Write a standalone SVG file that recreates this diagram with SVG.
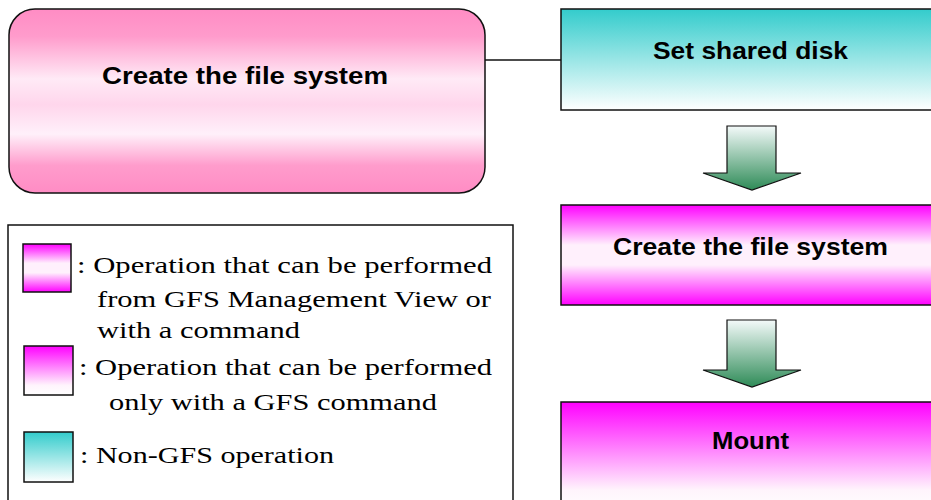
<svg xmlns="http://www.w3.org/2000/svg" width="931" height="500" viewBox="0 0 931 500">
<defs>
<linearGradient id="gPink" x1="0" y1="0" x2="0" y2="1">
<stop offset="0" stop-color="#ff8cc4"/>
<stop offset="0.15" stop-color="#ff9ccc"/>
<stop offset="0.38" stop-color="#ffeaf6"/>
<stop offset="0.52" stop-color="#ffd6ec"/>
<stop offset="0.68" stop-color="#fff0fa"/>
<stop offset="0.85" stop-color="#ff9ccc"/>
<stop offset="1" stop-color="#ff8cc4"/>
</linearGradient>
<linearGradient id="gMag" x1="0" y1="0" x2="0" y2="1">
<stop offset="0" stop-color="#ff00ff"/>
<stop offset="0.4" stop-color="#fff0fc"/>
<stop offset="0.6" stop-color="#fff0fc"/>
<stop offset="1" stop-color="#ff00ff"/>
</linearGradient>
<linearGradient id="gMagTop" x1="0" y1="0" x2="0" y2="1">
<stop offset="0" stop-color="#ff00ff"/>
<stop offset="0.8" stop-color="#fff4fc"/>
<stop offset="1" stop-color="#ffffff"/>
</linearGradient>
<linearGradient id="gTeal" x1="0" y1="0" x2="0" y2="1">
<stop offset="0" stop-color="#33cccc"/>
<stop offset="1" stop-color="#ffffff"/>
</linearGradient>
<linearGradient id="gArrow" x1="0" y1="0" x2="0" y2="1">
<stop offset="0" stop-color="#f4fafa"/>
<stop offset="1" stop-color="#2e8b57"/>
</linearGradient>
<style>
.box{stroke:#111;stroke-width:1.5}
.bold{font-family:"Liberation Sans",Arial,sans-serif;font-weight:bold;font-size:24px;fill:#000}
.leg{font-family:"Liberation Serif","Times New Roman",serif;font-size:23px;fill:#000}
.conn{stroke:#111;stroke-width:1.5;fill:none}
</style>
</defs>
<g id="connectors">
<line class="conn" x1="485" y1="60" x2="561" y2="60"/>
<path d="M727,126 H776 V173 H801 L752,190 L703,173 H727 Z" fill="url(#gArrow)" stroke="#111" stroke-width="1.2"/>
<path d="M727,320 H776 V370 H801 L752,387 L703,370 H727 Z" fill="url(#gArrow)" stroke="#111" stroke-width="1.2"/>
</g>
<g id="overview">
<rect class="box" x="9" y="9" width="476" height="184" rx="26" ry="26" fill="url(#gPink)"/>
<text class="bold" x="102" y="84" textLength="286" lengthAdjust="spacingAndGlyphs">Create the file system</text>
</g>
<g id="set-shared-disk">
<rect class="box" x="561" y="9" width="390" height="101" fill="url(#gTeal)"/>
<text class="bold" x="653" y="59" textLength="195" lengthAdjust="spacingAndGlyphs">Set shared disk</text>
</g>
<g id="create-fs">
<rect class="box" x="561" y="205" width="390" height="100" fill="url(#gMag)"/>
<text class="bold" x="613" y="255" textLength="275" lengthAdjust="spacingAndGlyphs">Create the file system</text>
</g>
<g id="mount">
<rect class="box" x="561" y="402" width="390" height="110" fill="url(#gMagTop)"/>
<text class="bold" x="712" y="449" textLength="77" lengthAdjust="spacingAndGlyphs">Mount</text>
</g>
<g id="legend">
<rect x="8" y="225" width="505" height="290" fill="#fff" stroke="#111" stroke-width="1.5"/>
<rect class="box" x="23" y="244" width="48" height="48" fill="url(#gMag)"/>
<rect class="box" x="24" y="346" width="49" height="49" fill="url(#gMagTop)"/>
<rect class="box" x="24" y="432" width="49" height="50" fill="url(#gTeal)"/>
<text class="leg" x="77" y="273" textLength="415" lengthAdjust="spacingAndGlyphs">: Operation that can be performed</text>
<text class="leg" x="97" y="307" textLength="394" lengthAdjust="spacingAndGlyphs">from GFS Management View or</text>
<text class="leg" x="97" y="338" textLength="203" lengthAdjust="spacingAndGlyphs">with a command</text>
<text class="leg" x="79" y="375" textLength="413" lengthAdjust="spacingAndGlyphs">: Operation that can be performed</text>
<text class="leg" x="109" y="410" textLength="328" lengthAdjust="spacingAndGlyphs">only with a GFS command</text>
<text class="leg" x="80" y="463" textLength="254" lengthAdjust="spacingAndGlyphs">: Non-GFS operation</text>
</g>
</svg>
